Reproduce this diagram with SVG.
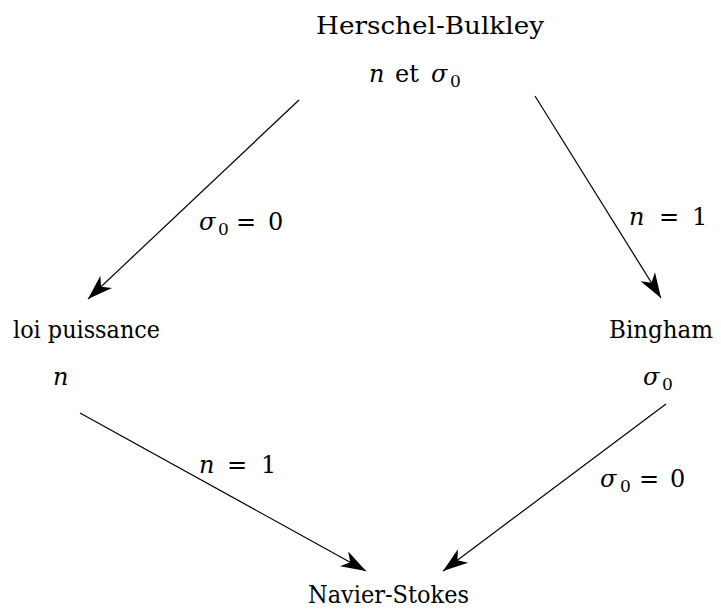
<svg xmlns="http://www.w3.org/2000/svg" width="721" height="614" viewBox="0 0 721 614">
<style>
text{font-family:"DejaVu Serif","Liberation Serif",serif}
.cm{font-size:24px}
.tm{font-size:24px}
.it{font-style:italic}
.sub{font-size:17px}
.edge{stroke:#000;stroke-width:1.2;fill:none;marker-end:url(#ah)}
</style>
<defs>
<marker id="ah" markerUnits="userSpaceOnUse" viewBox="-26 -10 28 20" refX="0" refY="0" markerWidth="28" markerHeight="20" orient="auto">
<path d="M0,0 L-25,-8.5 L-18,0 L-25,8.5 Z" fill="#000"/>
</marker>
</defs>
<rect width="721" height="614" fill="#fff"/>
<g id="connectors">
<line class="edge" x1="299" y1="100" x2="88" y2="299"/>
<line class="edge" x1="535" y1="96" x2="661" y2="298"/>
<line class="edge" x1="80" y1="413" x2="366" y2="571"/>
<line class="edge" x1="666" y1="404" x2="443" y2="571"/>
<text class="cm"><tspan class="it" x="199" y="230">σ</tspan><tspan class="sub" x="218" y="235">0</tspan><tspan x="236" y="230">=</tspan><tspan x="268" y="230">0</tspan></text>
<text class="cm"><tspan class="it" x="629" y="225">n</tspan><tspan x="659" y="225">=</tspan><tspan x="692" y="225">1</tspan></text>
<text class="cm"><tspan class="it" x="199" y="473">n</tspan><tspan x="227" y="473">=</tspan><tspan x="261" y="473">1</tspan></text>
<text class="cm"><tspan class="it" x="600" y="487">σ</tspan><tspan class="sub" x="620" y="492">0</tspan><tspan x="639" y="487">=</tspan><tspan x="670" y="487">0</tspan></text>
</g>
<g id="herschel-bulkley">
<text class="cm" x="316" y="34" textLength="228" lengthAdjust="spacingAndGlyphs">Herschel-Bulkley</text>
<text class="cm"><tspan class="it" x="369" y="82">n</tspan><tspan x="395" y="82">et</tspan><tspan class="it" x="431" y="82">σ</tspan><tspan class="sub" x="450" y="87">0</tspan></text>
</g>
<g id="loi-puissance">
<text class="tm" x="13" y="338" textLength="147" lengthAdjust="spacingAndGlyphs">loi puissance</text>
<text class="cm it" x="53" y="385">n</text>
</g>
<g id="bingham">
<text class="tm" x="609" y="338" textLength="104" lengthAdjust="spacingAndGlyphs">Bingham</text>
<text class="cm"><tspan class="it" x="643" y="385">σ</tspan><tspan class="sub" x="662" y="390">0</tspan></text>
</g>
<g id="navier-stokes">
<text class="cm" x="308" y="603" textLength="161" lengthAdjust="spacingAndGlyphs">Navier-Stokes</text>
</g>
</svg>
